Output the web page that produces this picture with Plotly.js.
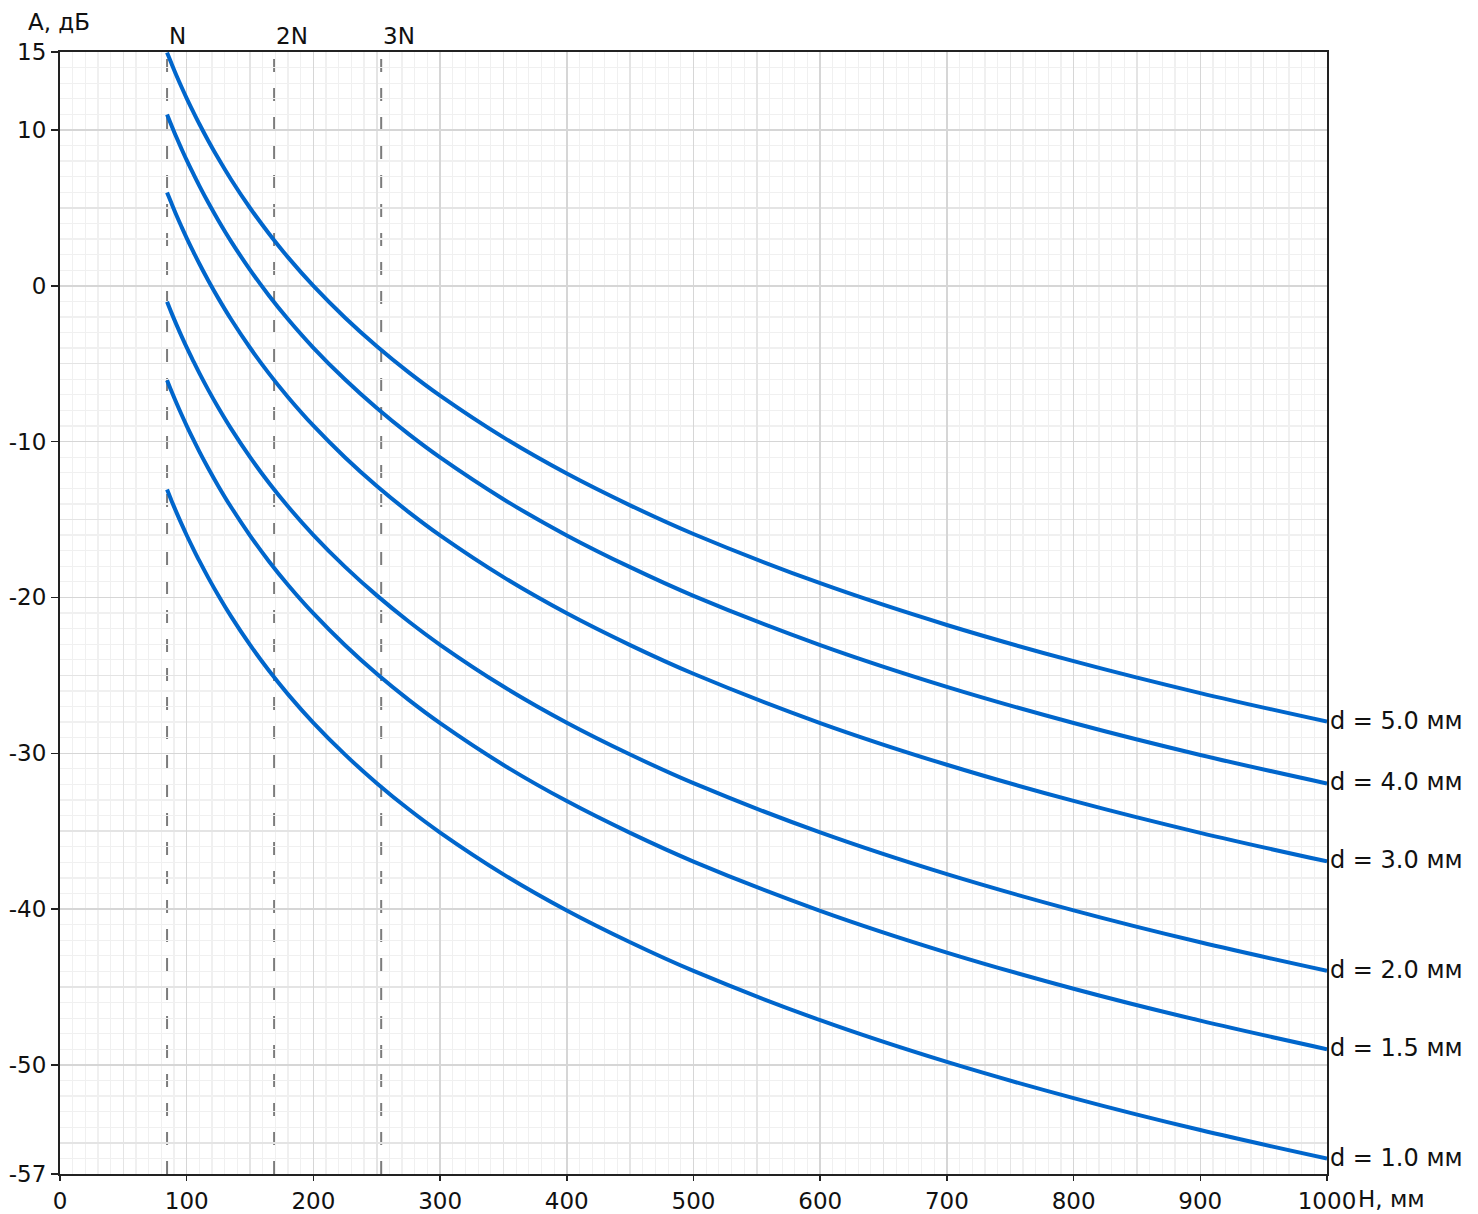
<!DOCTYPE html>
<html>
<head>
<meta charset="utf-8">
<script src="https://cdn.plot.ly/plotly-3.0.1.min.js"></script>
<style>html,body{margin:0;padding:0;background:#fff;}</style>
</head>
<body>
<div id="chart" style="width:1478px;height:1214px;"></div>
<script>
// Depth H, mm (sampling points)
const depthH = [84.5, 88, 92, 96, 100, 105, 110, 117, 125, 135, 150, 165, 180, 200, 225, 250, 275, 300, 350, 400, 450, 500, 600, 700, 800, 900, 1000];
// Amplitude A, dB for each reflector diameter
const ampD50 = [14.96, 14.26, 13.48, 12.74, 12.03, 11.19, 10.38, 9.31, 8.16, 6.82, 4.99, 3.34, 1.82, -0.01, -2.05, -3.88, -5.54, -7.05, -9.73, -12.05, -14.09, -15.93, -19.09, -21.77, -24.09, -26.14, -27.97];
const ampD40 = [10.99, 10.29, 9.51, 8.77, 8.06, 7.22, 6.41, 5.34, 4.19, 2.85, 1.02, -0.64, -2.15, -3.98, -6.02, -7.85, -9.51, -11.02, -13.70, -16.02, -18.06, -19.90, -23.06, -25.74, -28.06, -30.11, -31.94];
const ampD30 = [5.99, 5.29, 4.51, 3.77, 3.06, 2.22, 1.41, 0.34, -0.81, -2.15, -3.98, -5.64, -7.15, -8.98, -11.02, -12.85, -14.51, -16.02, -18.70, -21.02, -23.06, -24.90, -28.06, -30.74, -33.06, -35.11, -36.94];
const ampD20 = [-1.03, -1.74, -2.51, -3.25, -3.96, -4.80, -5.61, -6.68, -7.83, -9.17, -11.00, -12.66, -14.17, -16.00, -18.04, -19.87, -21.53, -23.04, -25.72, -28.04, -30.08, -31.92, -35.08, -37.76, -40.08, -42.13, -43.96];
const ampD15 = [-6.06, -6.77, -7.54, -8.28, -8.99, -9.83, -10.64, -11.71, -12.86, -14.20, -16.03, -17.69, -19.20, -21.03, -23.07, -24.90, -26.56, -28.07, -30.75, -33.07, -35.11, -36.95, -40.11, -42.79, -45.11, -47.16, -48.99];
const ampD10 = [-13.08, -13.79, -14.56, -15.30, -16.01, -16.85, -17.66, -18.73, -19.88, -21.22, -23.05, -24.71, -26.22, -28.05, -30.09, -31.92, -33.58, -35.09, -37.77, -40.09, -42.13, -43.97, -47.13, -49.81, -52.13, -54.18, -56.01];
const seriesLabels = ['d = 5.0 мм', 'd = 4.0 мм', 'd = 3.0 мм', 'd = 2.0 мм', 'd = 1.5 мм', 'd = 1.0 мм'];
const seriesValues = [ampD50, ampD40, ampD30, ampD20, ampD15, ampD10];
// Near-field length multiples
const nMarkH = [84.5, 169, 253.5];
const nMarkLabels = ['N', '2N', '3N'];
// Axis ticks
const xTickVals = [0, 100, 200, 300, 400, 500, 600, 700, 800, 900, 1000];
const yTickVals = [15, 10, 0, -10, -20, -30, -40, -50, -57];
const xRange = [0, 1000];
const yRange = [-57, 15];

const FONT = "'DejaVu Sans', 'Verdana', sans-serif";
const curveColor = '#0066cc';
const gridMajor = '#d6d6d6';
const gridMid = '#e4e4e4';
const gridMinor = '#f0f0f0';
const axisLine = '#222222';
const textColor = '#111111';

const traces = seriesValues.map((vals, i) => ({
  type: 'scatter', mode: 'lines',
  x: depthH, y: vals, name: seriesLabels[i],
  xaxis: 'x2', yaxis: 'y2',
  line: {color: curveColor, width: 4, shape: 'spline', smoothing: 1},
  hoverinfo: 'x+y+name', showlegend: false
}));
// placeholder on main axes so they are drawn
traces.unshift({type: 'scatter', mode: 'none', x: [], y: [], xaxis: 'x', yaxis: 'y', showlegend: false, hoverinfo: 'skip'});

const annotations = [];
seriesValues.forEach((vals, i) => {
  annotations.push({
    xref: 'x', yref: 'y', x: depthH[depthH.length - 1], y: vals[vals.length - 1],
    text: seriesLabels[i], showarrow: false, xanchor: 'left', yanchor: 'middle', xshift: 1, yshift: 1,
    font: {family: FONT, size: 24, color: textColor}
  });
});
nMarkH.forEach((h, i) => {
  annotations.push({
    xref: 'x', yref: 'paper', x: h, y: 1.0145, text: nMarkLabels[i], showarrow: false,
    xanchor: 'left', yanchor: 'middle', xshift: 0,
    font: {family: FONT, size: 23, color: textColor}
  });
});
annotations.push({
  xref: 'paper', yref: 'paper', x: -0.0265, y: 1.0265, text: 'А, дБ', showarrow: false,
  xanchor: 'left', yanchor: 'middle', font: {family: FONT, size: 23, color: textColor}
});
annotations.push({
  xref: 'paper', yref: 'paper', x: 1.0225, y: -0.0225, text: 'Н, мм', showarrow: false,
  xanchor: 'left', yanchor: 'middle', font: {family: FONT, size: 23, color: textColor}
});

const shapes = nMarkH.map(h => ({
  type: 'line', xref: 'x', yref: 'paper', x0: h, x1: h, y0: 0, y1: 1.008,
  line: {color: '#7c7c7c', width: 2, dash: '13px,16px'}, layer: 'below'
}));

const layout = {
  width: 1478, height: 1214,
  margin: {l: 60, r: 151, t: 52, b: 40, pad: 0},
  paper_bgcolor: '#ffffff', plot_bgcolor: '#ffffff',
  font: {family: FONT, size: 23, color: textColor},
  showlegend: false,
  xaxis: {
    range: xRange, tick0: 0, dtick: 50, showticklabels: false, ticks: '',
    showgrid: true, gridcolor: gridMid, gridwidth: 1.5,
    minor: {dtick: 10, showgrid: true, gridcolor: gridMinor, gridwidth: 1.2},
    showline: true, mirror: true, linecolor: axisLine, linewidth: 2, zeroline: false,
    fixedrange: true
  },
  yaxis: {
    range: yRange, tick0: 0, dtick: 5, showticklabels: false, ticks: '',
    showgrid: true, gridcolor: gridMid, gridwidth: 1.5,
    minor: {dtick: 1, showgrid: true, gridcolor: gridMinor, gridwidth: 1.2},
    showline: true, mirror: true, linecolor: axisLine, linewidth: 2, zeroline: false,
    fixedrange: true
  },
  xaxis2: {
    overlaying: 'x', anchor: 'y', side: 'bottom', range: xRange,
    tickmode: 'array', tickvals: xTickVals, ticktext: xTickVals.map(String),
    ticks: 'outside', ticklen: 6, tickwidth: 1.5, tickcolor: axisLine,
    tickfont: {family: FONT, size: 23, color: textColor},
    showgrid: true, gridcolor: gridMajor, gridwidth: 1.5,
    showline: false, zeroline: false, fixedrange: true
  },
  yaxis2: {
    overlaying: 'y', anchor: 'x', side: 'left', range: yRange,
    tickmode: 'array', tickvals: yTickVals, ticktext: yTickVals.map(String),
    ticks: 'outside', ticklen: 8, tickwidth: 1.5, tickcolor: axisLine,
    tickfont: {family: FONT, size: 23, color: textColor},
    showgrid: true, gridcolor: gridMajor, gridwidth: 1.5,
    showline: false, zeroline: false, fixedrange: true
  },
  annotations: annotations,
  shapes: shapes
};

Plotly.newPlot('chart', traces, layout, {displayModeBar: false, staticPlot: true});
</script>
</body>
</html>
